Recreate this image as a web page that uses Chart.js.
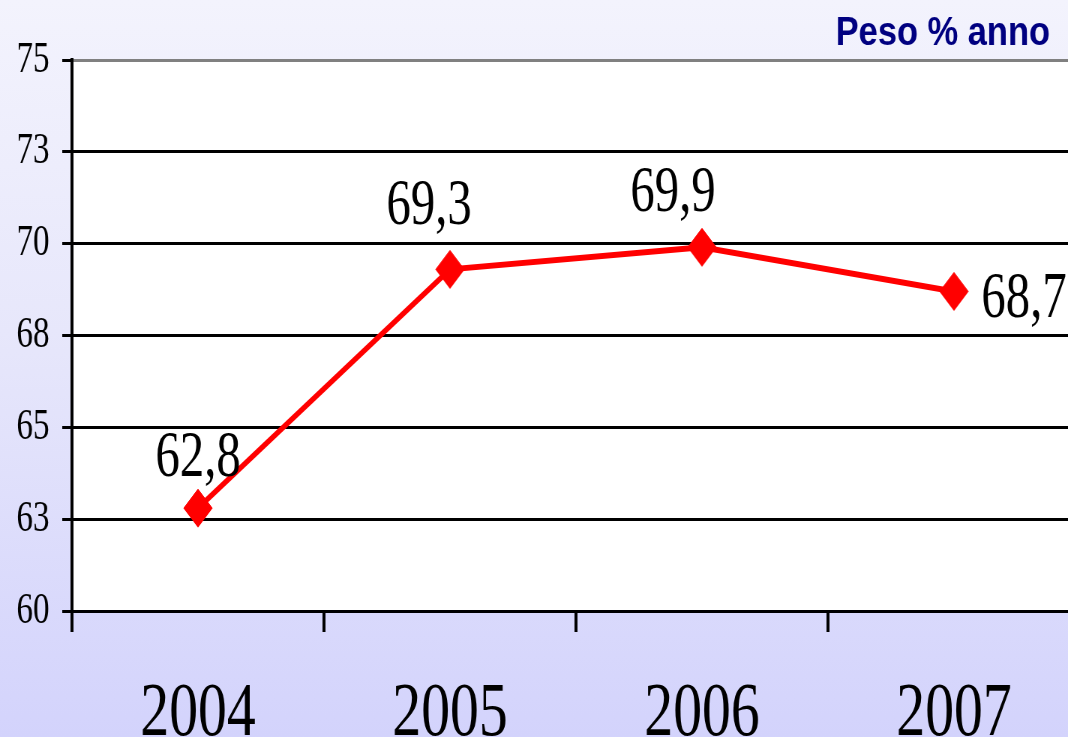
<!DOCTYPE html>
<html>
<head>
<meta charset="utf-8">
<script src="https://cdn.jsdelivr.net/npm/chart.js@4.4.1/dist/chart.umd.min.js"></script>
<style>
  html, body { margin:0; padding:0; overflow:hidden; }
  body { width:1068px; height:737px; background:linear-gradient(to bottom, #f3f3fd 0%, #e7e7fb 45%, #d3d3fc 100%); }
  /* the source picture is squeezed horizontally, so draw wide and squeeze */
  #wrap { position:absolute; left:0; top:0; width:1460px; height:737px; transform:scaleX(0.75); transform-origin:0 0; }
</style>
</head>
<body>
<div id="wrap"><canvas id="chart" width="1460" height="737"></canvas></div>
<script>
const SQUEEZE = 0.75;

const years = ["2004", "2005", "2006", "2007"];
const peso = [62.8, 69.3, 69.9, 68.7];
const pesoLabels = ["62,8", "69,3", "69,9", "68,7"];
const yTickLabels = ["60", "63", "65", "68", "70", "73", "75"];
const chartTitle = "Peso % anno";

const SERIF = "'Liberation Serif', 'Times New Roman', serif";

// white plot area over the lavender page
const plotBg = {
  id: "plotBg",
  beforeDraw(chart) {
    const { ctx, chartArea: a } = chart;
    ctx.save();
    ctx.fillStyle = "#ffffff";
    ctx.fillRect(a.left, a.top, a.right - a.left, a.bottom - a.top);
    ctx.restore();
  }
};

const valueLabels = {
  id: "valueLabels",
  afterDatasetsDraw(chart, args, opts) {
    const { ctx } = chart;
    const pts = chart.getDatasetMeta(0).data;
    ctx.save();
    ctx.font = opts.font;
    ctx.fillStyle = "#000";
    ctx.textAlign = "center";
    ctx.textBaseline = "alphabetic";
    pts.forEach((p, i) => {
      const [dx, dy] = opts.offsets[i];
      ctx.fillText(pesoLabels[i], p.x + dx / SQUEEZE, p.y + dy);
    });
    ctx.restore();
  }
};

const cornerTitle = {
  id: "cornerTitle",
  afterDraw(chart, args, opts) {
    const { ctx } = chart;
    ctx.save();
    ctx.translate(opts.right / SQUEEZE, opts.baseline);
    ctx.scale(opts.stretch, 1);
    ctx.font = opts.font;
    ctx.fillStyle = "#000080";
    ctx.textAlign = "right";
    ctx.textBaseline = "alphabetic";
    ctx.fillText(chartTitle, 0, 0);
    ctx.restore();
  }
};

new Chart(document.getElementById("chart"), {
  type: "line",
  data: {
    labels: years,
    datasets: [{
      data: peso,
      borderColor: "#ff0000",
      backgroundColor: "#ff0000",
      borderWidth: 6,
      pointStyle: "rectRot",
      pointRadius: 19,
      pointHoverRadius: 19,
      pointBorderWidth: 1,
      tension: 0
    }]
  },
  options: {
    responsive: false,
    animation: false,
    events: [],
    layout: { padding: { top: 60, right: 15, left: 0, bottom: 0 } },
    plugins: {
      legend: { display: false },
      tooltip: { enabled: false },
      valueLabels: { font: "65px " + SERIF, offsets: [[0, -32], [-21, -45], [-29, -36], [70, 26]] },
      cornerTitle: { font: "bold 41px 'Liberation Sans', Arial, sans-serif", right: 1050, baseline: 45, stretch: 1.12 }
    },
    scales: {
      x: {
        offset: true,
        grid: { offset: true, drawOnChartArea: false, drawTicks: true, tickLength: 21, lineWidth: 4, color: "#000" },
        border: { display: true, color: "#000", width: 3 },
        ticks: { font: { family: SERIF, size: 77 }, color: "#000", padding: 37, maxRotation: 0, autoSkip: false },
        afterFit(s) { s.height = 126; }
      },
      y: {
        min: 60, max: 75,
        ticks: { stepSize: 2.5, callback: (v, i) => yTickLabels[i], font: { family: SERIF, size: 44 }, color: "#000", padding: 17 },
        grid: { color: c => (c.tick && c.tick.value === 75 ? "#808080" : "#000"), tickColor: "#000", lineWidth: 3, tickLength: 13 },
        border: { color: "#000", width: 4 },
        afterFit(s) { s.width = 96; }
      }
    }
  },
  plugins: [plotBg, valueLabels, cornerTitle]
});
</script>
</body>
</html>
